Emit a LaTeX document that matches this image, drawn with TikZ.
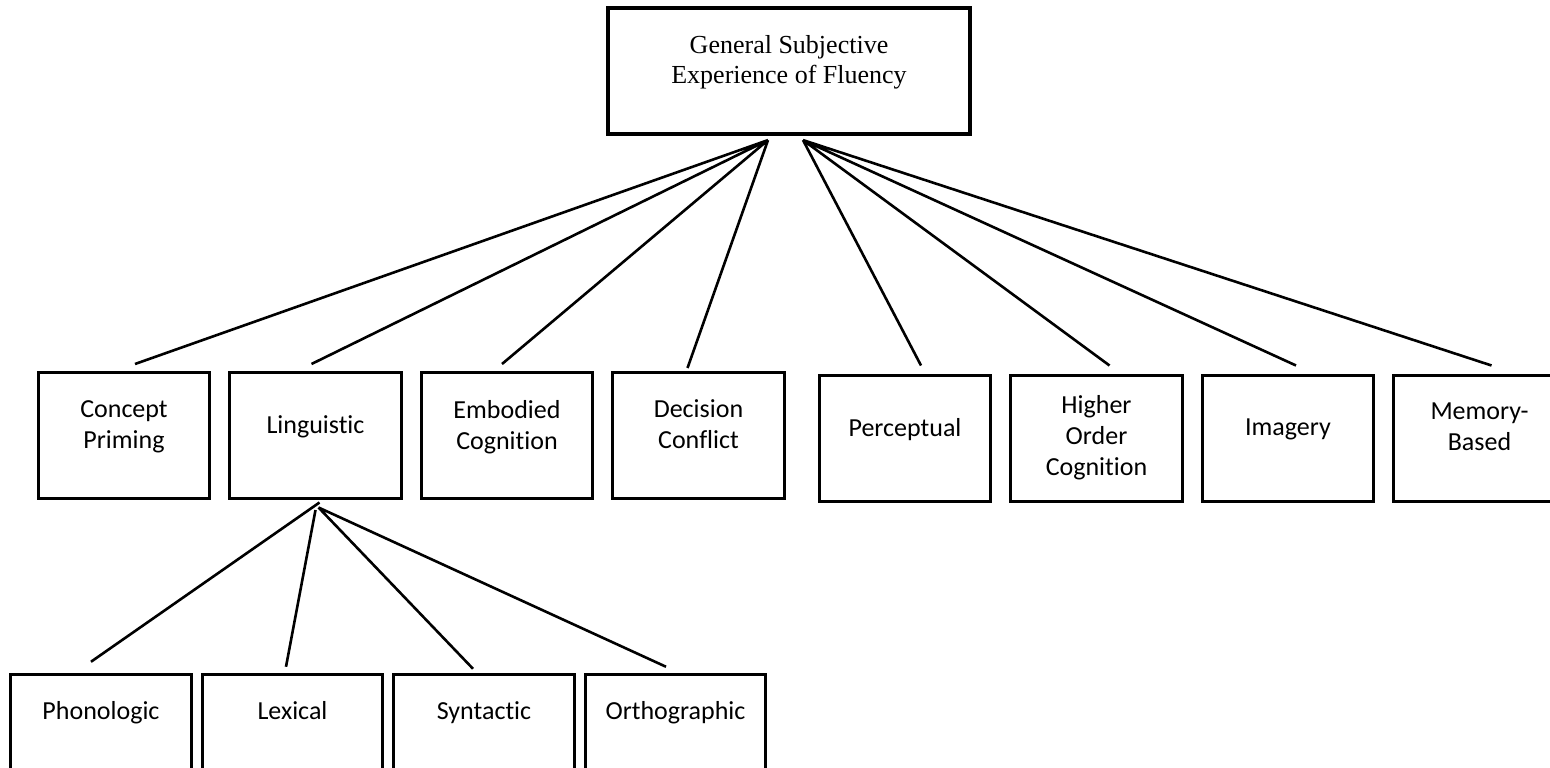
\documentclass[tikz,border=0pt]{standalone}
\usepackage{fontspec}
\usetikzlibrary{positioning}
\newfontfamily\boxfont{Carlito}[Ligatures=NoCommon]
\newfontfamily\rootfont{Liberation Serif}
\tikzset{
rootbox/.style={draw, line width=3.2pt, minimum width=362pt, minimum height=126pt, align=center, font=\rootfont\fontsize{26}{30}\selectfont, text depth=23pt}, % the top box
catbox/.style={draw, line width=3pt, minimum width=171.5pt, minimum height=126pt, align=center, font=\boxfont\fontsize{26}{31}\selectfont, text depth=22pt}, % first level boxes
subbox/.style={catbox, minimum width=180.5pt, text depth=54pt}, % boxes under Linguistic
link/.style={line width=2.6pt}, % the plain connecting lines
}

\begin{document}
\begin{tikzpicture}[x=1pt, y=-1pt]
            \clip (0,0) rectangle (1550,768);

            \node[rootbox] (gsef) at (789,71) {General Subjective\\Experience of Fluency};

            \node[catbox] (cp) at (124,435.5) {Concept\\Priming};
            \node[catbox, right=17pt of cp] (ling) {Linguistic};
            \node[catbox, right=17pt of ling] (emb) {Embodied\\Cognition};
            \node[catbox, right=17pt of emb] (dec) {Decision\\Conflict};
            \node[catbox, right=32pt of dec, yshift=-2.5pt] (perc) {Perceptual};
            \node[catbox, right=17pt of perc, text depth=6pt] (hoc) {Higher\\Order\\Cognition};
            \node[catbox, right=17pt of hoc] (img) {Imagery};
            \node[catbox, right=17pt of img] (mem) {Memory-\\Based};

            \node[subbox] (phon) at (101,737.75) {Phonologic};
            \node[subbox, right=8pt of phon] (lex) {Lexical};
            \node[subbox, right=8pt of lex] (syn) {Syntactic};
            \node[subbox, right=8pt of syn] (orth) {Orthographic};

            \coordinate (hubL) at ([shift={(-21,4.5)}]gsef.south);
            \coordinate (hubR) at ([shift={(14,4.5)}]gsef.south);

            \draw[link]
                (hubL) -- ([shift={(11,-7)}]cp.north)
                (hubL) -- ([shift={(-4,-7)}]ling.north)
                (hubL) -- ([shift={(-5,-7)}]emb.north)
                (hubL) -- ([shift={(-11,-3)}]dec.north)

                (hubR) -- ([shift={(16,-8)}]perc.north)
                (hubR) -- ([shift={(13,-8)}]hoc.north)
                (hubR) -- ([shift={(8,-8)}]img.north)
                (hubR) -- ([shift={(12,-8)}]mem.north)

                ([shift={(4,2.5)}]ling.south) -- ([shift={(-10,-11.5)}]phon.north)
                ([shift={(0,10)}]ling.south) -- ([shift={(-6.5,-6.5)}]lex.north)
                ([shift={(3,7.5)}]ling.south) -- ([shift={(-11,-4.5)}]syn.north)
                ([shift={(3,7.5)}]ling.south) -- ([shift={(-9.5,-6.5)}]orth.north)
                ;
        \end{tikzpicture}
\end{document}
